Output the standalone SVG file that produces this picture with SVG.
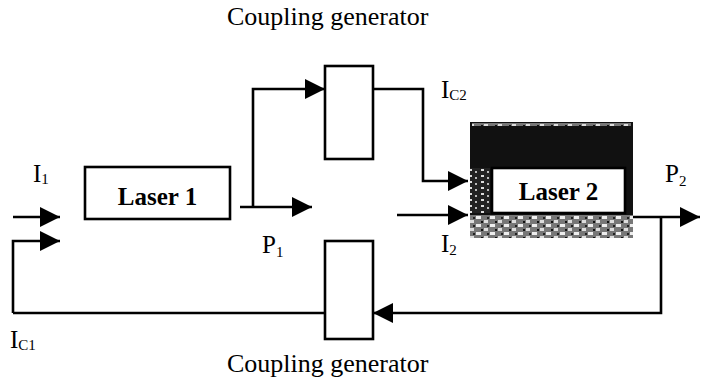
<svg xmlns="http://www.w3.org/2000/svg" width="701" height="379" viewBox="0 0 701 379">
<defs>
<style>
.ln{fill:none;stroke:#000;stroke-width:2.6;stroke-linejoin:miter}
.bx{fill:#fff;stroke:#000;stroke-width:2.6}
.t{font-family:"Liberation Serif","Times New Roman",serif;fill:#000}
.lbl{font-size:25px}
.sub{font-size:15px}
.big{font-size:26px}
.bold{font-size:25px;font-weight:bold}
</style>
<marker id="ah" markerUnits="userSpaceOnUse" markerWidth="20" markerHeight="20" refX="20" refY="10" orient="auto" viewBox="0 0 20 20">
<path d="M0,0 L20,10 L0,20 z" fill="#000"/>
</marker>
<pattern id="noise" width="12" height="6" patternUnits="userSpaceOnUse">
<rect width="12" height="6" fill="#222"/>
<rect x="1" y="1" width="3" height="2" fill="#ddd"/>
<rect x="7" y="3" width="2" height="2" fill="#bbb"/>
</pattern>
<pattern id="noise2" width="14" height="8" patternUnits="userSpaceOnUse">
<rect width="14" height="8" fill="#777"/>
<rect x="0" y="0" width="5" height="3" fill="#eee"/>
<rect x="8" y="4" width="4" height="3" fill="#ddd"/>
<rect x="5" y="5" width="2" height="2" fill="#111"/>
<rect x="11" y="1" width="2" height="2" fill="#222"/>
</pattern>
</defs>

<text class="t big" x="227" y="25">Coupling generator</text>
<text class="t big" x="227" y="372">Coupling generator</text>

<g id="connectors">
<path class="ln" d="M13,217 H60" marker-end="url(#ah)"/>
<path class="ln" d="M13,313 V241 H60" marker-end="url(#ah)"/>
<path class="ln" d="M240,207 H312" marker-end="url(#ah)"/>
<path class="ln" d="M253,207 V89 H325" marker-end="url(#ah)"/>
<path class="ln" d="M373,89 H423 V181 H468" marker-end="url(#ah)"/>
<path class="ln" d="M397,215 H468" marker-end="url(#ah)"/>
<path class="ln" d="M633,217 H700" marker-end="url(#ah)"/>
<path class="ln" d="M661,217 V313 H373" marker-end="url(#ah)"/>
<path class="ln" d="M13,313 H325"/>
</g>

<g id="laser1">
<rect class="bx" x="85" y="167" width="145" height="52"/>
<text class="t bold" x="157.5" y="205" text-anchor="middle">Laser 1</text>
</g>

<g id="coupling-top">
<rect class="bx" x="325" y="66" width="48" height="93"/>
</g>

<g id="coupling-bottom">
<rect class="bx" x="325" y="241" width="48" height="98"/>
</g>

<g id="laser2">
<rect x="470" y="122" width="163" height="116" fill="#111"/>
<rect x="472" y="123" width="159" height="3" fill="url(#noise2)"/>
<rect x="470" y="215" width="163" height="23" fill="url(#noise2)"/>
<rect x="470" y="168" width="20" height="45" fill="url(#noise)"/>
<rect class="bx" x="492" y="168" width="133" height="45"/>
<text class="t bold" x="558.5" y="200" text-anchor="middle">Laser 2</text>
</g>

<g id="labels">
<text class="t lbl" x="33" y="182">I<tspan class="sub" dy="2">1</tspan></text>
<text class="t lbl" x="262" y="253">P<tspan class="sub" dy="4">1</tspan></text>
<text class="t lbl" x="441" y="252">I<tspan class="sub" dy="3">2</tspan></text>
<text class="t lbl" x="441" y="98">I<tspan class="sub" dy="2">C2</tspan></text>
<text class="t lbl" x="665" y="182">P<tspan class="sub" dy="4">2</tspan></text>
<text class="t lbl" x="10" y="348">I<tspan class="sub" dy="2">C1</tspan></text>
</g>
</svg>
